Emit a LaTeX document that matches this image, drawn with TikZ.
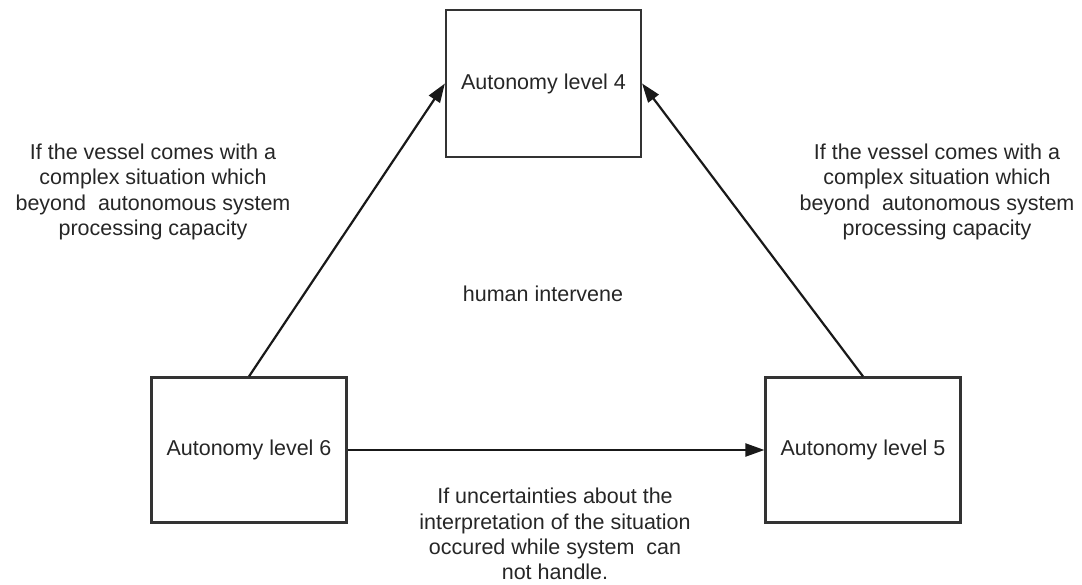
\documentclass[tikz,border=0pt]{standalone}
\usepackage{fontspec}
\setmainfont{Liberation Sans}
\usetikzlibrary{arrows.meta}
\begin{document}
\begin{tikzpicture}[x=1pt,y=-1pt,
  levelbox/.style={draw=black!80,line width=2.2pt,minimum width=195pt,minimum height=145pt,inner sep=0pt,font=\fontsize{21.5}{25}\selectfont,text=black!85},
  note/.style={align=center,font=\fontsize{21.5}{25.3}\selectfont,text=black!85},
  link/.style={line width=2.2pt,draw=black!90,-{Triangle[length=19pt,width=13pt]}}]
\useasboundingbox (0,0) rectangle (1082,585);
% level boxes
\node[levelbox,minimum height=147pt] (l4) at (543.5,83.5) {Autonomy level 4};
\node[levelbox] (l6) at (249,450) {Autonomy level 6};
\node[levelbox] (l5) at (863,450) {Autonomy level 5};
% transitions
\draw[link] (l6.north) -- (l4.west);
\draw[link] (l5.north) -- (l4.east);
\draw[link] (l6.east) -- (l5.west);
% labels
\node[note] (n1) at (153,192) {If the vessel comes with a\\complex situation which\\beyond\ \ autonomous system\\processing capacity};
\node[note] (n2) at (937,192) {If the vessel comes with a\\complex situation which\\beyond\ \ autonomous system\\processing capacity};
\node[note] (n3) at (543,294) {human intervene};
\node[note] (n4) at (555,534) {If uncertainties about the\\interpretation of the situation\\occured while system\ \ can\\not handle.};
\end{tikzpicture}
\end{document}
